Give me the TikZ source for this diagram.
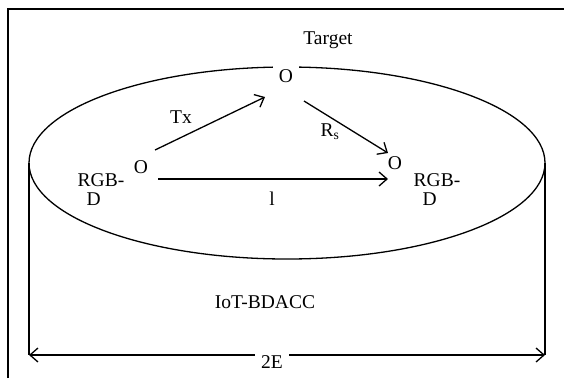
\documentclass[tikz,border=0pt]{standalone}
\usepackage{fontspec}
\setmainfont{Liberation Serif}
\usetikzlibrary{arrows.meta}
\begin{document}
\begin{tikzpicture}[x=1pt,y=-1pt,
  line width=1.3pt,
  every node/.style={font=\fontsize{19.5}{19}\selectfont, inner sep=0pt},
  pt/.style={fill=white, inner xsep=6pt, inner ysep=3pt},
  lbl/.style={},
  arr/.style={-{Straight Barb[length=8pt,width=14pt,line width=1.3pt]}},
  dim/.style={{Straight Barb[length=8pt,width=14pt,line width=1.3pt]}-{Straight Barb[length=8pt,width=14pt,line width=1.3pt]}}
]
\useasboundingbox (0,0) rectangle (564,378);
% frame
\draw (8,378) -- (8,9) -- (564,9);
% cylinder
\draw (287,163) ellipse [x radius=258, y radius=96];
\coordinate (cl) at (29,163);
\coordinate (cr) at (545,163);
\coordinate (bl) at (29,355);
\coordinate (br) at (545,355);
\draw (cl) -- (bl);
\draw (cr) -- (br);
\draw[dim] (bl) -- (br);
\node[fill=white, inner xsep=6pt, inner ysep=2pt] (twoE) at (272,362) {2E};
% points
\node[pt] (tO) at (286,76) {O};
\node (lO) at (141,167) {O};
\node (rO) at (395,163) {O};
\node (target) at (328,40) {Target};
\node (tx) at (181,117) {Tx};
\node (rs) at (330,132) {R\textsubscript{s}};
\node[align=left] (lrgb) at (101,190) {RGB-\\\hspace*{9pt}D};
\node[align=left] (rrgb) at (437,190) {RGB-\\\hspace*{9pt}D};
\node (len) at (272,199) {l};
\node (iot) at (265,302) {IoT-BDACC};
% arrows
\coordinate (txs) at (155,150);
\coordinate (txe) at (265,97);
\coordinate (rss) at (304,101);
\coordinate (rse) at (388,153);
\coordinate (hs) at (158,179);
\coordinate (he) at (388,179);
\draw[arr] (txs) -- (txe);
\draw[arr] (rss) -- (rse);
\draw[arr] (hs) -- (he);
\end{tikzpicture}
\end{document}
